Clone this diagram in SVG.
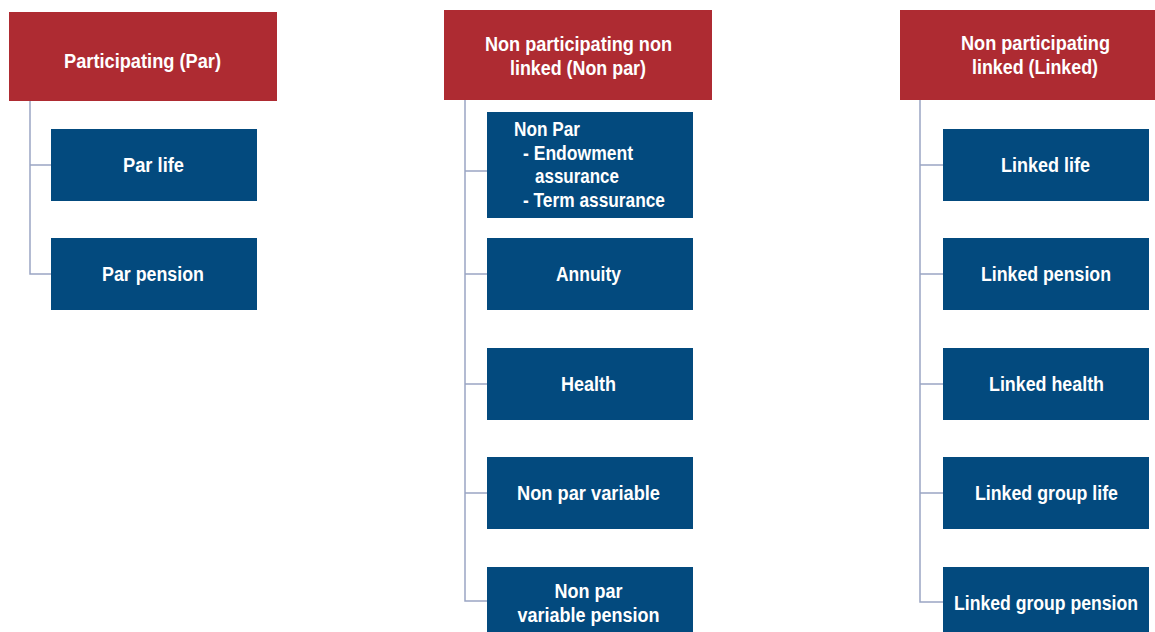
<svg xmlns="http://www.w3.org/2000/svg" width="1155" height="632" viewBox="0 0 1155 632">
<style>
.h{fill:#AE2B32}
.b{fill:#034A7E}
.t{fill:#fff;font-family:"Liberation Sans",Arial,sans-serif;font-weight:bold;font-size:20px;text-anchor:middle}
.l{text-anchor:start}
.c{fill:none;stroke:#9AA5C4;stroke-width:1.5}
</style>
<rect width="1155" height="632" fill="#fff"/>
<g id="connectors">
<path class="c" d="M30 101V274H51M30 165H51"/>
<path class="c" d="M465 100V601H487M465 171H487M465 274H487M465 384H487M465 493H487"/>
<path class="c" d="M920 100V602H943M920 165H943M920 274H943M920 384H943M920 493H943"/>
</g>
<g id="par"><rect class="h" x="9" y="12" width="268" height="89"/><text class="t" x="142.5" y="68" textLength="157" lengthAdjust="spacingAndGlyphs">Participating (Par)</text></g>
<g id="par-life"><rect class="b" x="51" y="129" width="206" height="72"/><text class="t" x="153.5" y="172" textLength="61" lengthAdjust="spacingAndGlyphs">Par life</text></g>
<g id="par-pension"><rect class="b" x="51" y="238" width="206" height="72"/><text class="t" x="153" y="281" textLength="102" lengthAdjust="spacingAndGlyphs">Par pension</text></g>
<g id="nonpar"><rect class="h" x="444" y="10" width="268" height="90"/><text class="t" x="578.5" y="51" textLength="187" lengthAdjust="spacingAndGlyphs">Non participating non</text><text class="t" x="578" y="75" textLength="136" lengthAdjust="spacingAndGlyphs">linked (Non par)</text></g>
<g id="nonpar-main"><rect class="b" x="487" y="112" width="206" height="106"/>
<text class="t l" x="514" y="136" textLength="66" lengthAdjust="spacingAndGlyphs">Non Par</text>
<text class="t l" x="523" y="160" textLength="110" lengthAdjust="spacingAndGlyphs">- Endowment</text>
<text class="t l" x="535" y="183" textLength="84" lengthAdjust="spacingAndGlyphs">assurance</text>
<text class="t l" x="523" y="207" textLength="142" lengthAdjust="spacingAndGlyphs">- Term assurance</text></g>
<g id="annuity"><rect class="b" x="487" y="238" width="206" height="72"/><text class="t" x="588.5" y="281" textLength="65" lengthAdjust="spacingAndGlyphs">Annuity</text></g>
<g id="health"><rect class="b" x="487" y="348" width="206" height="72"/><text class="t" x="588.5" y="391" textLength="55" lengthAdjust="spacingAndGlyphs">Health</text></g>
<g id="nonpar-variable"><rect class="b" x="487" y="457" width="206" height="72"/><text class="t" x="588.5" y="500" textLength="143" lengthAdjust="spacingAndGlyphs">Non par variable</text></g>
<g id="nonpar-variable-pension"><rect class="b" x="487" y="567" width="206" height="65"/><text class="t" x="588.5" y="598" textLength="68" lengthAdjust="spacingAndGlyphs">Non par</text><text class="t" x="588.5" y="622" textLength="142" lengthAdjust="spacingAndGlyphs">variable pension</text></g>
<g id="linked"><rect class="h" x="900" y="10" width="255" height="90"/><text class="t" x="1035.5" y="50" textLength="149" lengthAdjust="spacingAndGlyphs">Non participating</text><text class="t" x="1035" y="74" textLength="126" lengthAdjust="spacingAndGlyphs">linked (Linked)</text></g>
<g id="linked-life"><rect class="b" x="943" y="129" width="206" height="72"/><text class="t" x="1045.5" y="172" textLength="89" lengthAdjust="spacingAndGlyphs">Linked life</text></g>
<g id="linked-pension"><rect class="b" x="943" y="238" width="206" height="72"/><text class="t" x="1046" y="281" textLength="130" lengthAdjust="spacingAndGlyphs">Linked pension</text></g>
<g id="linked-health"><rect class="b" x="943" y="348" width="206" height="72"/><text class="t" x="1046.5" y="391" textLength="115" lengthAdjust="spacingAndGlyphs">Linked health</text></g>
<g id="linked-group-life"><rect class="b" x="943" y="457" width="206" height="72"/><text class="t" x="1046.5" y="500" textLength="143" lengthAdjust="spacingAndGlyphs">Linked group life</text></g>
<g id="linked-group-pension"><rect class="b" x="943" y="567" width="206" height="65"/><text class="t" x="1046" y="610" textLength="184" lengthAdjust="spacingAndGlyphs">Linked group pension</text></g>
</svg>
